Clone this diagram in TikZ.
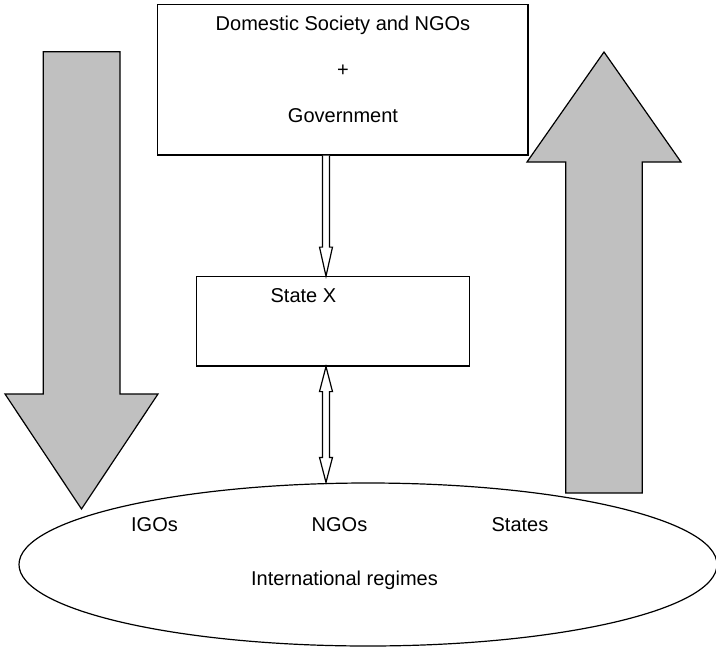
\documentclass[tikz,border=0pt]{standalone}
\usepackage{fontspec}
\setmainfont{Liberation Sans}
\usepackage{tikz}
\usetikzlibrary{calc,shapes.geometric}
\definecolor{arrowgray}{RGB}{192,192,192}

\begin{document}
\begin{tikzpicture}[x=1pt,y=-1pt,line width=1.2pt,
  box/.style={draw,rectangle,inner sep=0pt},
  lbl/.style={inner sep=0pt,anchor=base,font=\fontsize{20pt}{24pt}\selectfont},
  bigarrow/.style={draw,fill=arrowgray,line join=miter},
  hollow/.style={draw,fill=white,line join=miter}]
\useasboundingbox (0,0) rectangle (716,649);

% big grey arrows
\draw[bigarrow] (43.3,51.7) -- (120,51.7) -- (120,394) -- (158,394) -- (81.5,509)
  -- (5,394) -- (43.3,394) -- cycle;
\draw[bigarrow] (565.7,493) -- (642.3,493) -- (642.3,162) -- (681,162) -- (604,52)
  -- (527,162) -- (565.7,162) -- cycle;

% boxes
\node[box, minimum width=370.5pt, minimum height=150.5pt] (society) at (342.75,79.75) {};
\node[lbl] (domestic)   at (343,30)  {Domestic Society and NGOs};
\node[lbl] (plus)       at (343,76)  {+};
\node[lbl] (government) at (343,122) {Government};

\node[box, minimum width=272.6pt, minimum height=89.3pt] (state) at (333,321.35) {};
\node[lbl, anchor=base west] (statex) at (270,302) {State X};

\node[draw, ellipse, minimum width=698pt, minimum height=163pt, inner sep=0pt] (regimes) at (368,564.5) {};
\node[lbl] (igos)   at (154.5,531) {IGOs};
\node[lbl] (ngos)   at (339.5,531) {NGOs};
\node[lbl] (states) at (520,531)   {States};
\node[lbl] (intreg) at (344.5,585) {International regimes};

% hollow arrows
\coordinate (axis) at (326,0);
\path (society.south -| axis) coordinate (t1)
      (state.north -| axis)   coordinate (t2)
      (state.south -| axis)   coordinate (b1)
      (regimes.north -| axis) coordinate (b2);

\draw[hollow] ($(t1)+(-3.5,0)$) -- ($(t2)+(-3.5,-29)$) -- ($(t2)+(-6.5,-29)$) -- (t2)
  -- ($(t2)+(6.5,-29)$) -- ($(t2)+(3.5,-29)$) -- ($(t1)+(3.5,0)$);

\draw[hollow] ($(b1)+(-3.5,25)$) -- ($(b1)+(-6.5,25)$) -- (b1) -- ($(b1)+(6.5,25)$)
  -- ($(b1)+(3.5,25)$) -- ($(b2)+(3.5,-25)$) -- ($(b2)+(6.5,-25)$) -- (b2)
  -- ($(b2)+(-6.5,-25)$) -- ($(b2)+(-3.5,-25)$) -- cycle;
\end{tikzpicture}
\end{document}
